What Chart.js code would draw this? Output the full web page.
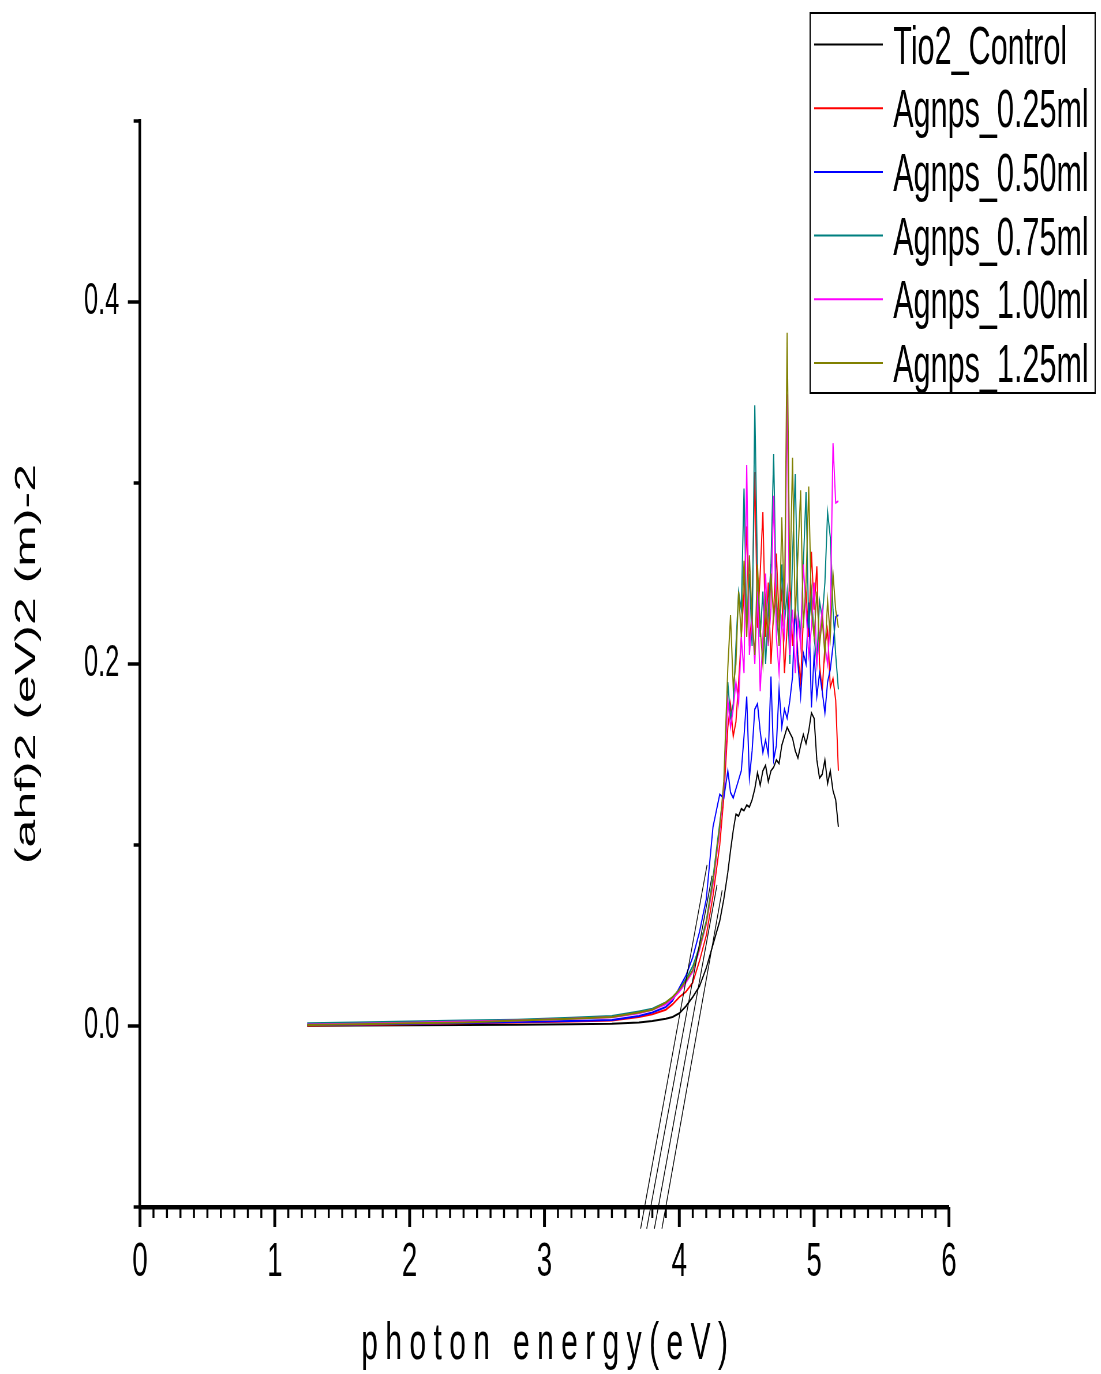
<!DOCTYPE html>
<html>
<head>
<meta charset="utf-8">
<script src="https://cdn.jsdelivr.net/npm/chart.js@4.4.1/dist/chart.umd.min.js"></script>
<style>
  html, body { margin: 0; padding: 0; background: #fff; overflow: hidden; }
  /* the plot is laid out wide and then narrowed, which gives the tall condensed lettering */
  #wrap { width: 1908px; height: 1374px; transform: scaleX(0.577); transform-origin: 0 0; }
</style>
</head>
<body>
<div id="wrap"><canvas id="tauc" width="1908" height="1374"></canvas></div>
<script>
// photon energy (eV), shared by all six samples
const energy = [1.24, 1.6, 2.0, 2.4, 2.8, 3.2, 3.5, 3.7, 3.8, 3.9,
  3.95, 4.0, 4.05, 4.1, 4.15, 4.2, 4.25, 4.3, 4.33,
  4.36, 4.38, 4.40, 4.42, 4.44, 4.46, 4.48, 4.50, 4.52, 4.54,
  4.56, 4.58, 4.60, 4.62, 4.64, 4.66, 4.68, 4.70, 4.72, 4.74,
  4.76, 4.78, 4.80, 4.82, 4.84, 4.86, 4.88, 4.90, 4.92, 4.94,
  4.96, 4.98, 5.00, 5.02, 5.04, 5.06, 5.08, 5.10, 5.12, 5.14,
  5.16, 5.18];

// (ahf)^2 for each sample
const tio2Control = [0.0002, 0.0003, 0.0004, 0.0005, 0.0007, 0.0009, 0.0012, 0.002, 0.0028, 0.004,
  0.005, 0.007, 0.011, 0.016, 0.022, 0.032, 0.045, 0.058, 0.070,
  0.085, 0.097, 0.108, 0.117, 0.116, 0.120, 0.119, 0.122, 0.121, 0.125,
  0.131, 0.140, 0.133, 0.141, 0.144, 0.135, 0.141, 0.143, 0.147, 0.145,
  0.155, 0.160, 0.165, 0.162, 0.159, 0.152, 0.148, 0.155, 0.161, 0.156,
  0.163, 0.173, 0.170, 0.147, 0.137, 0.139, 0.147, 0.134, 0.141, 0.130,
  0.125, 0.110];
const agnps025 = [0.0003, 0.0006, 0.001, 0.0015, 0.002, 0.0025, 0.003, 0.005, 0.0065, 0.009,
  0.012, 0.016, 0.019, 0.024, 0.036, 0.050, 0.072, 0.100, 0.126,
  0.165, 0.178, 0.160, 0.168, 0.190, 0.215, 0.240, 0.276, 0.210, 0.230,
  0.306, 0.220, 0.250, 0.284, 0.215, 0.245, 0.200, 0.230, 0.261, 0.225,
  0.240, 0.195, 0.220, 0.248, 0.210, 0.232, 0.205, 0.190, 0.225, 0.240,
  0.215, 0.262, 0.230, 0.254, 0.200, 0.185, 0.210, 0.219, 0.187, 0.192,
  0.180, 0.141];
const agnps050 = [0.0005, 0.0008, 0.0012, 0.0017, 0.0022, 0.0028, 0.0033, 0.0055, 0.0075, 0.0105,
  0.014, 0.021, 0.028, 0.038, 0.052, 0.070, 0.110, 0.128, 0.126,
  0.141, 0.129, 0.126, 0.131, 0.136, 0.141, 0.160, 0.182, 0.137, 0.152,
  0.175, 0.178, 0.163, 0.151, 0.158, 0.150, 0.193, 0.147, 0.155, 0.186,
  0.165, 0.175, 0.170, 0.180, 0.193, 0.234, 0.200, 0.182, 0.206, 0.200,
  0.234, 0.176, 0.205, 0.182, 0.195, 0.185, 0.173, 0.190, 0.197, 0.210,
  0.226, 0.227];
const agnps075 = [0.0015, 0.002, 0.0025, 0.003, 0.0035, 0.0045, 0.0055, 0.008, 0.0095, 0.013,
  0.016, 0.020, 0.026, 0.033, 0.044, 0.058, 0.082, 0.112, 0.130,
  0.190, 0.170, 0.178, 0.210, 0.240, 0.230, 0.297, 0.220, 0.250, 0.210,
  0.343, 0.250, 0.215, 0.240, 0.200, 0.230, 0.255, 0.316, 0.230, 0.210,
  0.255, 0.222, 0.240, 0.200, 0.260, 0.305, 0.230, 0.215, 0.255, 0.295,
  0.220, 0.240, 0.215, 0.200, 0.235, 0.225, 0.245, 0.284, 0.270, 0.230,
  0.205, 0.186];
const agnps100 = [0.0008, 0.0012, 0.0018, 0.0025, 0.003, 0.004, 0.0048, 0.007, 0.009, 0.012,
  0.015, 0.019, 0.024, 0.030, 0.042, 0.056, 0.078, 0.108, 0.132,
  0.180, 0.165, 0.175, 0.190, 0.178, 0.215, 0.195, 0.310, 0.205, 0.225,
  0.200, 0.240, 0.185, 0.215, 0.250, 0.210, 0.230, 0.293, 0.215, 0.195,
  0.225, 0.215, 0.349, 0.205, 0.230, 0.195, 0.225, 0.210, 0.255, 0.230,
  0.205, 0.220, 0.245, 0.200, 0.215, 0.230, 0.210, 0.200, 0.225, 0.322,
  0.289, 0.290];
const agnps125 = [0.0005, 0.001, 0.0015, 0.002, 0.003, 0.004, 0.005, 0.0075, 0.009, 0.013,
  0.016, 0.020, 0.025, 0.031, 0.043, 0.057, 0.080, 0.110, 0.135,
  0.198, 0.227, 0.187, 0.200, 0.240, 0.215, 0.257, 0.215, 0.260, 0.225,
  0.205, 0.255, 0.220, 0.200, 0.235, 0.215, 0.250, 0.225, 0.240, 0.210,
  0.281, 0.230, 0.383, 0.240, 0.314, 0.225, 0.260, 0.296, 0.220, 0.245,
  0.298, 0.230, 0.215, 0.240, 0.210, 0.225, 0.205, 0.235, 0.215, 0.250,
  0.230, 0.220];

const seriesNames = ['Tio2_Control', 'Agnps_0.25ml', 'Agnps_0.50ml', 'Agnps_0.75ml', 'Agnps_1.00ml', 'Agnps_1.25ml'];
const seriesValues = [tio2Control, agnps025, agnps050, agnps075, agnps100, agnps125];
const seriesColors = ['#000000', '#ff0000', '#0000ff', '#008080', '#ff00ff', '#808000'];

// straight-line fits to the absorption edge, extended a little below the axis
const tangentEnergy = [[3.713, 4.206], [3.758, 4.243], [3.815, 4.280], [3.871, 4.318]];
const tangentValue = [[-0.112, 0.089], [-0.112, 0.083], [-0.112, 0.078], [-0.112, 0.075]];

const xTickValues = [0, 1, 2, 3, 4, 5, 6];
const yTickValues = [0.0, 0.2, 0.4];

const FONT = 'Liberation Sans, Arial, sans-serif';

const datasets = seriesNames.map((name, i) => ({
  label: name,
  data: energy.map((e, k) => ({ x: e, y: seriesValues[i][k] })),
  borderColor: seriesColors[i],
  borderWidth: 2,
  pointRadius: 0,
  tension: 0,
  order: seriesNames.length - i
}));

tangentEnergy.forEach((xs, i) => {
  datasets.push({
    label: 'fit' + (i + 1),
    data: xs.map((e, k) => ({ x: e, y: tangentValue[i][k] })),
    borderColor: '#000',
    borderWidth: 1.4,
    pointRadius: 0,
    clip: false,
    order: -1
  });
});

// major and minor tick marks pointing outwards
const axisMarks = {
  id: 'axisMarks',
  afterDraw(chart) {
    const { ctx, chartArea, scales: { x, y } } = chart;
    ctx.save();
    ctx.strokeStyle = '#000';
    for (let i = Math.round(x.min * 10); i <= Math.round(x.max * 10); i++) {
      const major = i % 10 === 0;
      const px = x.getPixelForValue(i / 10);
      ctx.lineWidth = major ? 5 : 3.5;
      ctx.beginPath();
      ctx.moveTo(px, chartArea.bottom);
      ctx.lineTo(px, chartArea.bottom + (major ? 20 : 11));
      ctx.stroke();
    }
    for (let i = Math.round(y.min * 10); i <= Math.round(y.max * 10); i++) {
      const major = yTickValues.some(v => Math.abs(v - i / 10) < 1e-9);
      const py = y.getPixelForValue(i / 10);
      ctx.lineWidth = 3.5;
      ctx.beginPath();
      ctx.moveTo(chartArea.left, py);
      ctx.lineTo(chartArea.left - (major ? 21 : 11), py);
      ctx.stroke();
    }
    ctx.restore();
  }
};

// boxed legend in the upper right corner
const boxLegend = {
  id: 'boxLegend',
  afterDraw(chart) {
    const ctx = chart.ctx;
    const left = 1404, top = 13, right = 1898, bottom = 393;
    const rowStart = 44.5, rowGap = 63.7;
    ctx.save();
    ctx.fillStyle = '#fff';
    ctx.fillRect(left, top, right - left, bottom - top);
    ctx.strokeStyle = '#000';
    ctx.lineWidth = 2;
    ctx.strokeRect(left, top, right - left, bottom - top);
    ctx.font = '53px ' + FONT;
    ctx.textBaseline = 'alphabetic';
    ctx.textAlign = 'left';
    seriesNames.forEach((name, i) => {
      const ry = rowStart + i * rowGap;
      ctx.strokeStyle = seriesColors[i];
      ctx.lineWidth = 2;
      ctx.beginPath();
      ctx.moveTo(1411, ry);
      ctx.lineTo(1530, ry);
      ctx.stroke();
      ctx.fillStyle = '#000';
      ctx.fillText(name, 1548, ry + 19);
    });
    ctx.restore();
  }
};

// spaced-out x axis caption
const xCaption = {
  id: 'xCaption',
  afterDraw(chart) {
    const ctx = chart.ctx;
    ctx.save();
    ctx.font = '52px ' + FONT;
    ctx.fillStyle = '#000';
    ctx.textAlign = 'left';
    ctx.textBaseline = 'alphabetic';
    ctx.letterSpacing = '12.8px';
    ctx.fillText('photon energy(eV)', 626, 1359);
    ctx.restore();
  }
};

new Chart(document.getElementById('tauc'), {
  type: 'line',
  data: { datasets },
  options: {
    responsive: false,
    animation: false,
    devicePixelRatio: 1,
    layout: { padding: { left: 0, right: 263.4, top: 121, bottom: 0 } },
    plugins: {
      legend: { display: false },
      tooltip: { enabled: false }
    },
    scales: {
      x: {
        type: 'linear',
        min: 0,
        max: 6,
        afterBuildTicks: s => { s.ticks = xTickValues.map(v => ({ value: v })); },
        afterFit: s => { s.height = 167; },
        grid: { display: false, drawTicks: false },
        border: { display: true, color: '#000', width: 4.5 },
        ticks: {
          color: '#000',
          font: { family: FONT, size: 48 },
          padding: 27,
          maxRotation: 0,
          callback: v => String(v)
        },
        title: { display: false }
      },
      y: {
        type: 'linear',
        min: -0.1,
        max: 0.5,
        afterBuildTicks: s => { s.ticks = yTickValues.map(v => ({ value: v })); },
        afterFit: s => { s.width = 242.6; },
        grid: { display: false, drawTicks: false },
        border: { display: true, color: '#000', width: 4.5 },
        ticks: {
          color: '#000',
          font: { family: FONT, size: 44 },
          padding: 36,
          callback: v => v.toFixed(1)
        },
        title: {
          display: true,
          text: '(ahf)2 (eV)2 (m)-2',
          color: '#000',
          font: { family: FONT, size: 50 },
          padding: { top: 17, bottom: 0 }
        }
      }
    }
  },
  plugins: [axisMarks, boxLegend, xCaption]
});
</script>
</body>
</html>
